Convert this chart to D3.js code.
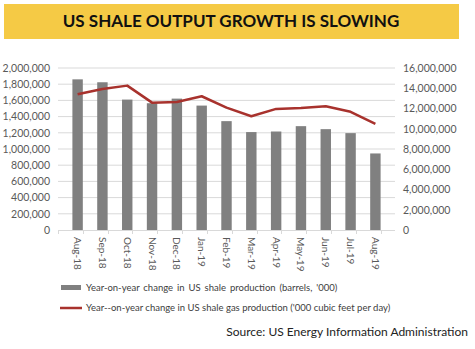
<!DOCTYPE html>
<html>
<head>
<meta charset="utf-8">
<script src="https://cdn.jsdelivr.net/npm/d3@7"></script>
<style>
body { margin: 0; background: #fff; }
#vis { width: 475px; height: 349px; }
text { font-family: Lato, "Open Sans", sans-serif; }
</style>
</head>
<body>
<div id="vis"></div>
<script>
var months = ['Aug-18', 'Sep-18', 'Oct-18', 'Nov-18', 'Dec-18', 'Jan-19', 'Feb-19', 'Mar-19', 'Apr-19', 'May-19', 'Jun-19', 'Jul-19', 'Aug-19'];
var oil = [1860000, 1824000, 1610000, 1565000, 1622000, 1536000, 1344000, 1209000, 1216000, 1282000, 1245000, 1196000, 945000];
var gas = [13410000, 13930000, 14260000, 12580000, 12650000, 13210000, 12090000, 11240000, 11960000, 12060000, 12230000, 11670000, 10490000];
var left_ticks = [0, 200000, 400000, 600000, 800000, 1000000, 1200000, 1400000, 1600000, 1800000, 2000000];
var right_ticks = [0, 2000000, 4000000, 6000000, 8000000, 10000000, 12000000, 14000000, 16000000];

var width = 475, height = 349;
var margin = {top: 68, bottom: 119, left: 58, right: 80};
var svg = d3.select('#vis').append('svg').attr('width', width).attr('height', height);

// title banner
svg.append('rect').attr('x', 4).attr('y', 4).attr('width', 455).attr('height', 35).attr('fill', '#f5ca45');
svg.append('text').attr('x', 231).attr('y', 27).attr('text-anchor', 'middle')
	.attr('font-size', 17).attr('font-weight', 'bold').attr('fill', '#111')
	.text('US SHALE OUTPUT GROWTH IS SLOWING');

var w = width - margin.left - margin.right;
var h = height - margin.top - margin.bottom;
var g = svg.append('g').attr('transform', 'translate(' + margin.left + ',' + margin.top + ')');

var x_scale = d3.scaleBand().domain(months).range([0, w]).padding(0.58);
var y_left = d3.scaleLinear().domain([0, 2000000]).range([h, 0]);
var y_right = d3.scaleLinear().domain([0, 16000000]).range([h, 0]);
var fmt = d3.format(',');

// gridlines
g.selectAll('.grid').data(left_ticks.slice(1)).enter().append('line')
	.attr('x1', 0).attr('x2', w)
	.attr('y1', function(d) { return y_left(d); }).attr('y2', function(d) { return y_left(d); })
	.attr('stroke', '#d9d9d9').attr('stroke-width', 1);

// bars
g.selectAll('.bar').data(oil).enter().append('rect')
	.attr('x', function(d, i) { return x_scale(months[i]); })
	.attr('width', x_scale.bandwidth())
	.attr('y', function(d) { return y_left(d); })
	.attr('height', function(d) { return h - y_left(d); })
	.attr('fill', '#808080');

// line
var line = d3.line()
	.x(function(d, i) { return x_scale(months[i]) + x_scale.bandwidth() / 2; })
	.y(function(d) { return y_right(d); });
g.append('path').datum(gas).attr('d', line)
	.attr('fill', 'none').attr('stroke', '#a8322d').attr('stroke-width', 2.5).attr('stroke-linejoin', 'round');

// left axis
var y_axis = d3.axisLeft(y_left).tickValues(left_ticks).tickFormat(fmt).tickSize(0).tickPadding(8);
var ya = g.append('g').call(y_axis);
ya.select('.domain').remove();
ya.selectAll('text').attr('font-size', 10.5).attr('fill', '#595959').style('font-family', 'Lato, sans-serif');

// right axis
var y_axis_r = d3.axisRight(y_right).tickValues(right_ticks).tickFormat(fmt).tickSize(0).tickPadding(8);
var yr = g.append('g').attr('transform', 'translate(' + w + ',0)').call(y_axis_r);
yr.select('.domain').remove();
yr.selectAll('text').attr('font-size', 10.5).attr('fill', '#595959').style('font-family', 'Lato, sans-serif');

// x axis
g.append('line').attr('x1', 0).attr('x2', w).attr('y1', h + 0.5).attr('y2', h + 0.5).attr('stroke', '#d9d9d9');
g.selectAll('.xtick').data(months.concat(['end'])).enter().append('line')
	.attr('x1', function(d, i) { return Math.round(i * x_scale.step()) + 0.5; })
	.attr('x2', function(d, i) { return Math.round(i * x_scale.step()) + 0.5; })
	.attr('y1', h).attr('y2', h + 4).attr('stroke', '#d9d9d9');
g.selectAll('.xlab').data(months).enter().append('text')
	.attr('transform', function(d) {
		return 'translate(' + (x_scale(d) + x_scale.bandwidth() / 2 - 3.5) + ',' + (h + 7) + ') rotate(90)';
	})
	.attr('font-size', 10).attr('fill', '#595959').text(function(d) { return d; });

// legend
svg.append('rect').attr('x', 61).attr('y', 285).attr('width', 20).attr('height', 5).attr('fill', '#808080');
svg.append('text').attr('x', 86).attr('y', 291).attr('font-size', 9.5).attr('fill', '#404040')
	.attr('word-spacing', 1.5)
	.text("Year-on-year change in US shale production (barrels, '000)");
svg.append('line').attr('x1', 60).attr('x2', 82).attr('y1', 308).attr('y2', 308).attr('stroke', '#a8322d').attr('stroke-width', 2.5);
svg.append('text').attr('x', 86).attr('y', 311).attr('font-size', 9.5).attr('fill', '#404040')
	.text("Year--on-year change in US shale gas production ('000 cubic feet per day)");

svg.append('text').attr('x', 468).attr('y', 336).attr('text-anchor', 'end').attr('font-size', 12).attr('fill', '#222')
	.text('Source: US Energy Information Administration');
</script>
</body>
</html>
